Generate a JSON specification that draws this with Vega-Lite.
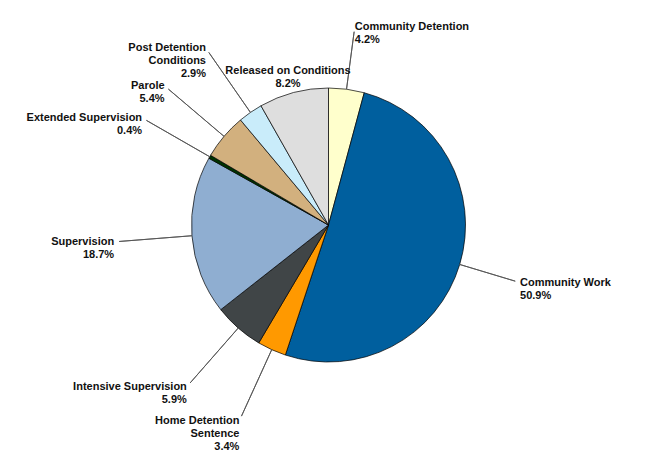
{
  "$schema": "https://vega.github.io/schema/vega-lite/v6.json",
  "width": 650,
  "height": 458,
  "autosize": {"type": "fit", "contains": "padding"},
  "padding": {"left": 7, "top": 0, "right": 0, "bottom": 8},
  "background": "white",
  "config": {"view": {"stroke": null}, "text": {"font": "Liberation Sans"}},
  "data": {
    "values": [
      {"category": "Community Detention", "value": 4.2, "order": 1},
      {"category": "Community Work", "value": 50.9, "order": 2},
      {"category": "Home Detention\nSentence", "value": 3.4, "order": 3},
      {"category": "Intensive Supervision", "value": 5.9, "order": 4},
      {"category": "Supervision", "value": 18.7, "order": 5},
      {"category": "Extended Supervision", "value": 0.4, "order": 6},
      {"category": "Parole", "value": 5.4, "order": 7},
      {"category": "Post Detention\nConditions", "value": 2.9, "order": 8},
      {"category": "Released on Conditions", "value": 8.2, "order": 9}
    ]
  },
  "transform": [
    {"stack": "value", "groupby": [], "sort": [{"field": "order", "order": "ascending"}], "as": ["v0", "v1"]},
    {"calculate": "(datum.v0 + datum.v1) / 2", "as": "mid"},
    {"calculate": "datum.category + '\\n' + format(datum.value, '.1f') + '%'", "as": "label"}
  ],
  "layer": [
    {
      "mark": {"type": "arc", "radius": 137, "stroke": "#000000", "strokeWidth": 0.7},
      "encoding": {
        "theta": {"field": "v0", "type": "quantitative", "stack": null, "scale": {"domain": [0, 100], "range": [0, 6.283185307179586]}},
        "theta2": {"field": "v1"},
        "color": {
          "field": "category",
          "type": "nominal",
          "legend": null,
          "scale": {
            "domain": ["Community Detention", "Community Work", "Home Detention\nSentence", "Intensive Supervision", "Supervision", "Extended Supervision", "Parole", "Post Detention\nConditions", "Released on Conditions"],
            "range": ["#FFFFCC", "#005F9E", "#FF9900", "#404547", "#8FAED1", "#003300", "#D2B07E", "#C9ECFA", "#DEDEDE"]
          }
        }
      }
    },
    {
      "transform": [{"filter": "datum.mid <= 50"}],
      "mark": {"type": "arc", "radius": 195, "radius2": 137, "filled": false, "stroke": "#555555", "strokeWidth": 0.9},
      "encoding": {
        "theta": {"field": "mid", "type": "quantitative", "stack": null},
        "theta2": {"field": "mid"}
      }
    },
    {
      "transform": [{"filter": "datum.mid > 50 && datum.mid <= 93"}],
      "mark": {"type": "arc", "radius": 210, "radius2": 137, "filled": false, "stroke": "#555555", "strokeWidth": 0.9},
      "encoding": {
        "theta": {"field": "mid", "type": "quantitative", "stack": null},
        "theta2": {"field": "mid"}
      }
    },
    {
      "transform": [{"filter": "datum.mid <= 50"}],
      "mark": {"type": "text", "radius": 200, "align": "left", "baseline": "middle", "fontSize": 11, "fontWeight": "bold", "lineHeight": 13, "lineBreak": "\n", "color": "#111111"},
      "encoding": {
        "theta": {"field": "mid", "type": "quantitative", "stack": null},
        "text": {"field": "label"}
      }
    },
    {
      "transform": [{"filter": "datum.mid > 50 && datum.mid <= 93"}],
      "mark": {"type": "text", "radius": 215, "align": "right", "baseline": "middle", "fontSize": 11, "fontWeight": "bold", "lineHeight": 13, "lineBreak": "\n", "color": "#111111"},
      "encoding": {
        "theta": {"field": "mid", "type": "quantitative", "stack": null},
        "text": {"field": "label"}
      }
    },
    {
      "transform": [{"filter": "datum.mid > 93"}],
      "mark": {"type": "text", "radius": 159, "align": "center", "baseline": "middle", "fontSize": 11, "fontWeight": "bold", "lineHeight": 13, "lineBreak": "\n", "color": "#111111"},
      "encoding": {
        "theta": {"field": "mid", "type": "quantitative", "stack": null},
        "text": {"field": "label"}
      }
    }
  ]
}
